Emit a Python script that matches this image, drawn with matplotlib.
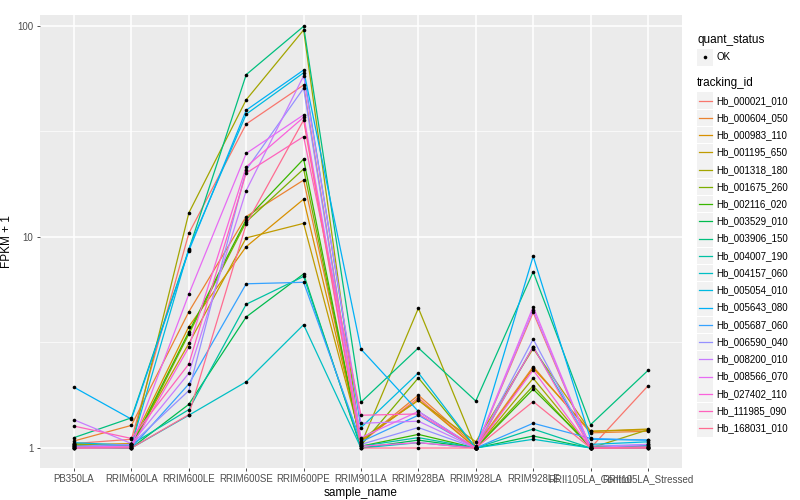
import numpy as np
import matplotlib
matplotlib.use("Agg")
import matplotlib.pyplot as plt
from matplotlib.patches import Rectangle

plt.rcParams['font.family'] = ['Liberation Sans', 'DejaVu Sans']

# sample order on the x axis
samples = ["PB350LA", "RRIM600LA", "RRIM600LE", "RRIM600SE", "RRIM600PE",
           "RRIM901LA", "RRIM928BA", "RRIM928LA", "RRIM928LE",
           "RRII105LA_Control", "RRII105LA_Stressed"]

tracking_ids = ["Hb_000021_010", "Hb_000604_050", "Hb_000983_110", "Hb_001195_650",
                "Hb_001318_180", "Hb_001675_260", "Hb_002116_020", "Hb_003529_010",
                "Hb_003906_150", "Hb_004007_190", "Hb_004157_060", "Hb_005054_010",
                "Hb_005643_080", "Hb_005687_060", "Hb_006590_040", "Hb_008200_010",
                "Hb_008566_070", "Hb_027402_110", "Hb_111985_090", "Hb_168031_010"]

# ggplot default hue palette for 20 levels
colors = ["#F8766D", "#EA8331", "#D89000", "#C09B00", "#A3A500", "#7CAE00", "#39B600",
          "#00BB4E", "#00BF7D", "#00C1A3", "#00BFC4", "#00BAE0", "#00B0F6", "#35A2FF",
          "#9590FF", "#C77CFF", "#E76BF3", "#FA62DB", "#FF62BC", "#FF6C91"]

# FPKM + 1, one row per tracking_id
fpkm = [
    [1.05, 1.10, 10.4, 34.3, 52.5, 1.06, 1.73, 1.00, 4.39, 1.00, 1.97],
    [1.08, 1.28, 4.42, 12.5, 18.6, 1.07, 1.78, 1.02, 2.43, 1.18, 1.20],
    [1.03, 1.05, 3.76, 9.0, 15.1, 1.08, 1.69, 1.00, 2.39, 1.20, 1.22],
    [1.04, 1.04, 3.13, 9.9, 11.6, 1.10, 1.68, 1.07, 2.96, 1.20, 1.23],
    [1.05, 1.02, 13.0, 44.7, 95.7, 1.04, 4.60, 1.00, 2.14, 1.00, 1.22],
    [1.02, 1.00, 3.47, 11.8, 21.0, 1.03, 2.15, 1.00, 1.97, 1.00, 1.00],
    [1.03, 1.02, 3.55, 12.1, 23.4, 1.02, 1.16, 1.00, 1.90, 1.02, 1.01],
    [1.01, 1.00, 1.61, 4.18, 6.68, 1.00, 1.09, 1.00, 1.14, 1.00, 1.00],
    [1.12, 1.39, 8.7, 58.8, 99.6, 1.65, 2.98, 1.67, 6.84, 1.29, 2.33],
    [1.00, 1.04, 1.52, 4.8, 6.5, 1.02, 1.12, 1.00, 1.23, 1.00, 1.02],
    [1.02, 1.00, 1.43, 2.06, 3.84, 1.00, 1.06, 1.00, 1.10, 1.00, 1.03],
    [1.06, 1.03, 8.8, 38.2, 60.0, 1.25, 2.27, 1.00, 3.02, 1.04, 1.07],
    [1.94, 1.37, 8.6, 39.9, 61.8, 2.94, 1.49, 1.00, 8.10, 1.10, 1.09],
    [1.00, 1.00, 2.01, 6.0, 6.1, 1.07, 1.43, 1.00, 1.31, 1.11, 1.09],
    [1.02, 1.04, 1.87, 20.8, 50.7, 1.04, 1.25, 1.00, 3.28, 1.02, 1.04],
    [1.36, 1.05, 2.26, 16.6, 58.0, 1.31, 1.34, 1.00, 4.50, 1.00, 1.04],
    [1.01, 1.02, 5.36, 24.9, 37.9, 1.12, 1.49, 1.00, 4.67, 1.00, 1.00],
    [1.00, 1.01, 3.00, 21.5, 36.9, 1.02, 1.06, 1.00, 2.34, 1.00, 1.01],
    [1.27, 1.11, 2.50, 20.1, 29.9, 1.43, 1.45, 1.00, 3.02, 1.00, 1.01],
    [1.00, 1.00, 1.44, 11.5, 35.8, 1.00, 1.00, 1.00, 1.66, 1.00, 1.00],
]

W, H = 800, 500
fig = plt.figure(figsize=(8, 5), dpi=100)

# panel in pixel coords
px_left, px_right, px_top, px_bottom = 39.6, 682.4, 15, 468
ax = fig.add_axes([px_left / W, 1 - px_bottom / H,
                   (px_right - px_left) / W, (px_bottom - px_top) / H])
ax.set_facecolor("#EBEBEB")

x = np.arange(len(samples))
for vals, col in zip(fpkm, colors):
    ax.plot(x, vals, color=col, lw=0.9, zorder=2)
for vals in fpkm:
    ax.plot(x, vals, "o", color="black", ms=2.6, mec="none", zorder=3)

ax.set_yscale("log")
ax.set_yticks([1, 10, 100])
ax.set_yticklabels(["1", "10", "100"])
ax.set_yticks([10 ** 0.5, 10 ** 1.5], minor=True)
ax.yaxis.set_minor_formatter(matplotlib.ticker.NullFormatter())
ax.set_xticks(x)
ax.set_xticklabels(samples)
ax.set_ylim(0.804, 112.7)
ax.set_xlim(-0.6, 10.6)

ax.grid(True, which="major", color="white", lw=1.1, zorder=0)
ax.grid(True, which="minor", axis="y", color="white", lw=0.5, zorder=0)
ax.set_axisbelow(True)
for s in ax.spines.values():
    s.set_visible(False)
ax.tick_params(which="major", length=2.5, width=0.6, color="#333333",
               labelsize=7, labelcolor="#4D4D4D", pad=2)
ax.tick_params(which="minor", length=0)

ax.set_xlabel("sample_name", fontsize=8.5, labelpad=2)
ax.set_ylabel("FPKM + 1", fontsize=8.5)
ax.yaxis.set_label_coords((13 - px_left) / (px_right - px_left), 0.5)

# legend drawn in pixel coordinates
lg = fig.add_axes([0, 0, 1, 1])
lg.set_xlim(0, W)
lg.set_ylim(H, 0)
lg.axis("off")

lg.text(697, 40, "quant_status", fontsize=8.5, va="center", ha="left")
lg.add_patch(Rectangle((697, 48.5), 16, 17, color="#F2F2F2", lw=0))
lg.plot([705], [57], "o", color="black", ms=2.6, mec="none")
lg.text(716.5, 57, "OK", fontsize=7, va="center", ha="left")

lg.text(697, 83, "tracking_id", fontsize=8.5, va="center", ha="left")
y0, dy = 100.7, 17.24
for i, (tid, col) in enumerate(zip(tracking_ids, colors)):
    yc = y0 + i * dy
    lg.add_patch(Rectangle((697, yc - 8.3), 16, 16.6, color="#F2F2F2", lw=0))
    lg.plot([698.5, 711.5], [yc, yc], color=col, lw=0.9)
    lg.text(716.5, yc, tid, fontsize=7, va="center", ha="left")

fig.savefig("out.png", dpi=100)
